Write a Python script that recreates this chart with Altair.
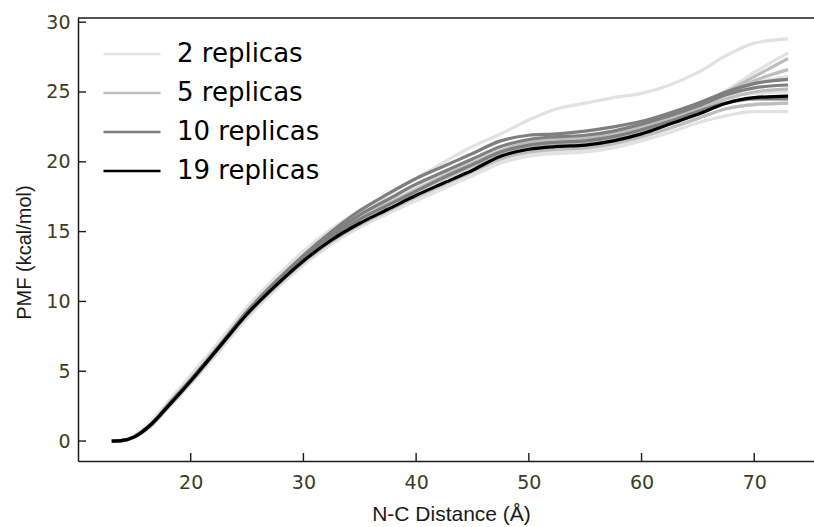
import altair as alt
import pandas as pd

# N-C distance grid (Å) shared by every PMF profile
distance = [13, 14, 15, 16.5, 18, 20, 22.5, 25, 27.5, 30, 32.5, 35, 37.5, 40,
            42.5, 45, 47.5, 50, 52.5, 55, 57.5, 60, 62.5, 65, 67.5, 70, 73]

# PMF profiles (kcal/mol), grouped by number of replicas used
pmf_2 = [
    [0, 0.05, 0.4, 1.4, 2.8, 4.7, 7.1, 9.6, 11.7, 13.6, 15.2, 16.5, 17.7, 18.8,
     20.0, 21.1, 22.0, 23.0, 23.8, 24.2, 24.6, 24.9, 25.5, 26.4, 27.6, 28.5, 28.8],
    [0, 0.05, 0.3, 1.3, 2.7, 4.6, 7.0, 9.4, 11.5, 13.3, 14.9, 16.1, 17.2, 18.2,
     19.1, 20.0, 20.9, 21.4, 21.6, 21.8, 22.1, 22.6, 23.2, 24.0, 25.1, 26.4, 27.8],
    [0, 0.05, 0.3, 1.2, 2.6, 4.5, 6.9, 9.3, 11.3, 13.1, 14.7, 15.9, 16.9, 17.9,
     18.8, 19.7, 20.6, 21.1, 21.3, 21.5, 21.9, 22.4, 23.1, 23.9, 24.8, 25.6, 26.1],
    [0, 0.05, 0.3, 1.1, 2.4, 4.1, 6.4, 8.8, 10.8, 12.6, 14.1, 15.3, 16.3, 17.2,
     18.1, 19.0, 19.9, 20.4, 20.6, 20.7, 21.0, 21.5, 22.1, 22.8, 23.3, 23.6, 23.6],
    [0, 0.05, 0.3, 1.1, 2.4, 4.2, 6.5, 8.9, 10.9, 12.7, 14.2, 15.4, 16.4, 17.4,
     18.3, 19.2, 20.1, 20.6, 20.8, 20.9, 21.2, 21.7, 22.4, 23.1, 23.8, 24.1, 24.2],
    [0, 0.05, 0.4, 1.4, 2.8, 4.7, 7.1, 9.5, 11.6, 13.4, 15.0, 16.3, 17.4, 18.4,
     19.3, 20.2, 21.0, 21.4, 21.5, 21.6, 21.9, 22.4, 23.0, 23.8, 24.6, 24.9, 25.0],
]
pmf_5 = [
    [0, 0.05, 0.3, 1.2, 2.6, 4.4, 6.8, 9.2, 11.3, 13.1, 14.7, 15.9, 17.0, 18.0,
     19.0, 19.9, 20.8, 21.4, 21.6, 21.7, 22.0, 22.6, 23.3, 24.1, 25.0, 26.1, 27.4],
    [0, 0.05, 0.3, 1.2, 2.5, 4.4, 6.8, 9.2, 11.2, 13.0, 14.6, 15.8, 16.9, 17.9,
     18.9, 19.8, 20.7, 21.2, 21.4, 21.5, 21.8, 22.4, 23.1, 23.9, 24.8, 25.8, 26.6],
    [0, 0.05, 0.3, 1.1, 2.4, 4.2, 6.6, 9.0, 11.0, 12.8, 14.3, 15.5, 16.5, 17.5,
     18.4, 19.3, 20.2, 20.7, 20.9, 21.0, 21.3, 21.8, 22.4, 23.1, 23.8, 24.1, 24.2],
    [0, 0.05, 0.3, 1.2, 2.5, 4.3, 6.7, 9.1, 11.2, 13.0, 14.6, 15.8, 16.9, 17.9,
     18.8, 19.7, 20.6, 21.1, 21.3, 21.4, 21.7, 22.2, 22.9, 23.7, 24.5, 25.0, 25.2],
]
pmf_10 = [
    [0, 0.05, 0.3, 1.2, 2.6, 4.4, 6.8, 9.3, 11.4, 13.3, 15.0, 16.5, 17.7, 18.8,
     19.7, 20.6, 21.5, 21.9, 22.0, 22.2, 22.5, 22.9, 23.5, 24.2, 25.0, 25.6, 25.9],
    [0, 0.05, 0.3, 1.2, 2.5, 4.3, 6.7, 9.2, 11.3, 13.1, 14.8, 16.2, 17.3, 18.4,
     19.3, 20.2, 21.1, 21.6, 21.8, 21.9, 22.2, 22.7, 23.3, 24.0, 24.8, 25.3, 25.5],
    [0, 0.05, 0.3, 1.2, 2.5, 4.3, 6.7, 9.1, 11.2, 13.0, 14.6, 15.9, 16.9, 17.9,
     18.9, 19.8, 20.7, 21.2, 21.4, 21.5, 21.8, 22.3, 22.9, 23.6, 24.2, 24.5, 24.5],
]
pmf_19 = [
    [0, 0.05, 0.3, 1.2, 2.5, 4.3, 6.7, 9.1, 11.1, 12.9, 14.4, 15.6, 16.6, 17.6,
     18.5, 19.4, 20.4, 20.9, 21.1, 21.2, 21.5, 22.0, 22.7, 23.4, 24.2, 24.6, 24.7],
]

groups = ["2 replicas", "5 replicas", "10 replicas", "19 replicas"]
colors = ["#e2e2e2", "#bdbdbd", "#7f7f7f", "#000000"]

x_ticks = [20, 30, 40, 50, 60, 70]
y_ticks = [0, 5, 10, 15, 20, 25, 30]

W, H = 736, 443
TICK_COLOR = "#3c3c1e"
SPINE = "#1a1a1a"


def profiles_frame(label, curves):
    rows = []
    for i, curve in enumerate(curves):
        for d, v in zip(distance, curve):
            rows.append({"distance": d, "pmf": v, "group": label, "run": f"{label}-{i}"})
    return pd.DataFrame(rows)


color_scale = alt.Scale(domain=groups, range=colors)
x_scale = alt.Scale(domain=[10, 75.3], nice=False, zero=False)
y_scale = alt.Scale(domain=[-1.43, 30.3], nice=False, zero=False)

x_axis = alt.Axis(
    values=x_ticks, title="N-C Distance (Å)", grid=False, ticks=False, tickSize=0,
    domainColor=SPINE, domainWidth=1.5, labelFont="DejaVu Sans", labelFontSize=19,
    labelColor=TICK_COLOR, labelPadding=12, titleFont="Liberation Sans",
    titleFontSize=21, titleFontWeight="normal", titleColor="#1a1a1a",
    titleX=373, titleY=53, titleAlign="center", titleBaseline="middle",
)
y_axis = alt.Axis(
    values=y_ticks, title="PMF (kcal/mol)", grid=False, ticks=False, tickSize=0,
    domainColor=SPINE, domainWidth=1.5, labelFont="DejaVu Sans", labelFontSize=19,
    labelColor=TICK_COLOR, labelPadding=8, titleFont="Liberation Sans",
    titleFontSize=20, titleFontWeight="normal", titleColor="#1a1a1a",
    titleX=-54, titleY=234, titleAlign="center", titleBaseline="middle", titleAngle=-90,
)
# long horizontal legend line drawn as a custom path (unit box -1..1, stretched 3x)
legend = alt.Legend(
    title=None, orient="none", legendX=41, legendY=23,
    symbolType="M-3,0H3", symbolSize=361, symbolStrokeWidth=2.6,
    labelFont="DejaVu Sans", labelFontSize=26, labelColor="#000000",
    labelOffset=32, rowPadding=13, padding=0,
)

layers = []
for label, curves in zip(groups, [pmf_2, pmf_5, pmf_10, pmf_19]):
    layers.append(
        alt.Chart(profiles_frame(label, curves))
        .mark_line(interpolate="monotone", strokeWidth=3.2)
        .encode(
            x=alt.X("distance:Q", scale=x_scale, axis=x_axis),
            y=alt.Y("pmf:Q", scale=y_scale, axis=y_axis),
            color=alt.Color("group:N", scale=color_scale, legend=legend),
            detail="run:N",
            order="distance:Q",
        )
    )

# inward-pointing ticks on the bottom and left spines
xtick_layer = alt.Chart(pd.DataFrame({"t": x_ticks})).mark_rule(
    color=SPINE, strokeWidth=1.4
).encode(x=alt.X("t:Q", scale=x_scale, axis=x_axis), y=alt.value(H), y2=alt.value(H - 8))
ytick_layer = alt.Chart(pd.DataFrame({"t": y_ticks})).mark_rule(
    color=SPINE, strokeWidth=1.4
).encode(y=alt.Y("t:Q", scale=y_scale, axis=y_axis), x=alt.value(0), x2=alt.value(8))
# top spine
top_spine = alt.Chart(pd.DataFrame({"t": [0]})).mark_rule(
    color=SPINE, strokeWidth=1.5
).encode(x=alt.value(0), x2=alt.value(W), y=alt.value(0))

chart = (
    alt.layer(*layers, xtick_layer, ytick_layer, top_spine)
    .properties(
        width=W, height=H,
        padding={"left": 78, "top": 18, "right": 0, "bottom": 66},
        autosize=alt.AutoSizeParams(type="none"),
        background="#ffffff",
    )
    .configure_view(stroke=None)
)

chart.save("out.html", embed_options={"renderer": "svg", "actions": False})
